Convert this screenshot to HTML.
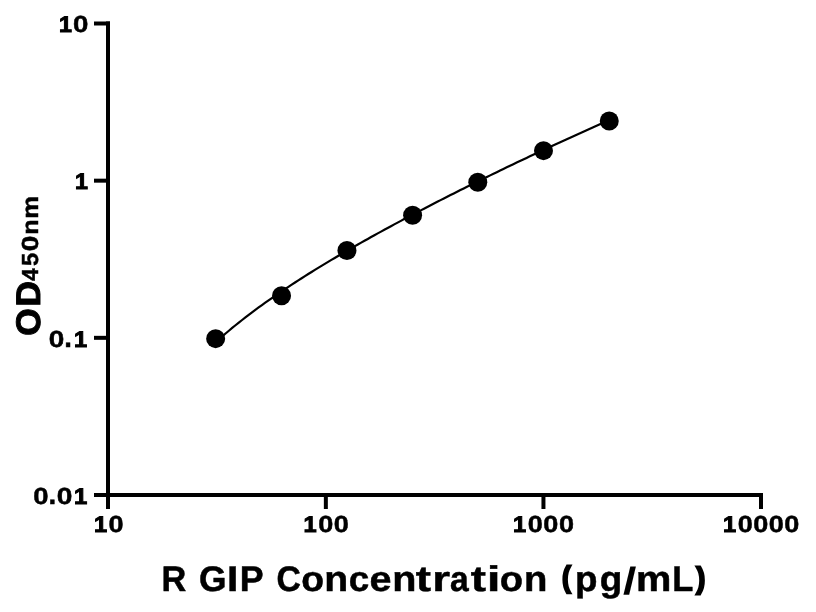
<!DOCTYPE html>
<html><head><meta charset="utf-8"><title>R GIP ELISA standard curve</title>
<style>
html,body{margin:0;padding:0;background:#fff;width:816px;height:612px;overflow:hidden}
svg{display:block;will-change:transform}
text{font-family:"Liberation Sans",sans-serif;font-weight:bold;font-size:100px;fill:#000;text-rendering:geometricPrecision;stroke:#000;stroke-linejoin:miter;stroke-miterlimit:3}
</style></head>
<body>
<svg width="816" height="612" viewBox="0 0 816 612">
<rect width="816" height="612" fill="#fff"/>
<g stroke="#000" stroke-width="4" fill="none" stroke-linecap="butt">
<line x1="108" y1="21.5" x2="108" y2="509"/>
<line x1="94" y1="495" x2="763" y2="495"/>
<line x1="94" y1="23.5" x2="110" y2="23.5"/>
<line x1="94" y1="180.67" x2="110" y2="180.67"/>
<line x1="94" y1="337.83" x2="110" y2="337.83"/>
<line x1="325.85" y1="493" x2="325.85" y2="509"/>
<line x1="543.45" y1="493" x2="543.45" y2="509"/>
<line x1="761" y1="493" x2="761" y2="509"/>
</g>
<path d="M215.65,342.24 L218.96,339.27 L222.27,336.37 L225.57,333.51 L228.88,330.72 L232.19,327.97 L235.50,325.27 L238.80,322.61 L242.11,320.00 L245.42,317.42 L248.73,314.88 L252.03,312.38 L255.34,309.92 L258.65,307.48 L261.96,305.08 L265.26,302.71 L268.57,300.36 L271.88,298.05 L275.19,295.75 L278.49,293.49 L281.80,291.24 L285.11,289.02 L288.42,286.83 L291.72,284.65 L295.03,282.49 L298.34,280.35 L301.65,278.24 L304.95,276.13 L308.26,274.05 L311.57,271.98 L314.88,269.93 L318.18,267.90 L321.49,265.88 L324.80,263.87 L328.11,261.88 L331.41,259.90 L334.72,257.93 L338.03,255.98 L341.34,254.04 L344.64,252.11 L347.95,250.20 L351.26,248.29 L354.57,246.40 L357.88,244.51 L361.18,242.64 L364.49,240.77 L367.80,238.92 L371.11,237.07 L374.41,235.24 L377.72,233.41 L381.03,231.59 L384.34,229.78 L387.64,227.98 L390.95,226.19 L394.26,224.40 L397.57,222.62 L400.87,220.85 L404.18,219.09 L407.49,217.33 L410.80,215.58 L414.10,213.84 L417.41,212.10 L420.72,210.37 L424.03,208.65 L427.33,206.93 L430.64,205.22 L433.95,203.52 L437.26,201.82 L440.56,200.12 L443.87,198.44 L447.18,196.76 L450.49,195.08 L453.79,193.41 L457.10,191.74 L460.41,190.08 L463.72,188.43 L467.02,186.78 L470.33,185.13 L473.64,183.50 L476.95,181.86 L480.26,180.23 L483.56,178.61 L486.87,176.99 L490.18,175.37 L493.49,173.76 L496.79,172.15 L500.10,170.55 L503.41,168.95 L506.72,167.36 L510.02,165.77 L513.33,164.19 L516.64,162.61 L519.95,161.04 L523.25,159.47 L526.56,157.90 L529.87,156.34 L533.18,154.78 L536.48,153.23 L539.79,151.68 L543.10,150.14 L546.41,148.60 L549.71,147.06 L553.02,145.53 L556.33,144.01 L559.64,142.48 L562.94,140.97 L566.25,139.45 L569.56,137.94 L572.87,136.44 L576.17,134.94 L579.48,133.44 L582.79,131.95 L586.10,130.47 L589.40,128.98 L592.71,127.50 L596.02,126.03 L599.33,124.56 L602.63,123.10 L605.94,121.64 L609.25,120.18" stroke="#000" stroke-width="2.2" fill="none"/>
<g fill="#000">
<circle cx="215.65" cy="338.65" r="9.5"/>
<circle cx="281.55" cy="295.8" r="9.5"/>
<circle cx="346.95" cy="250.45" r="9.5"/>
<circle cx="412.6" cy="215.25" r="9.5"/>
<circle cx="477.8" cy="182.25" r="9.5"/>
<circle cx="543.5" cy="150.65" r="9.5"/>
<circle cx="609.25" cy="120.95" r="9.5"/>
</g>
<g><text style="stroke-width:4.379px" transform="matrix(0.2320 0 0 0.2249 58.94 32.00)">1</text><text style="stroke-width:1.971px" transform="matrix(0.2768 0 0 0.2325 73.08 32.00)">0</text></g>
<g><text style="stroke-width:4.379px" transform="matrix(0.2320 0 0 0.2249 75.04 189.00)">1</text></g>
<g><text style="stroke-width:1.964px" transform="matrix(0.2789 0 0 0.2325 48.77 347.00)">0</text><text style="stroke-width:1.792px" transform="matrix(0.2768 0 0 0.2813 64.17 347.00)">.</text><text style="stroke-width:4.339px" transform="matrix(0.2361 0 0 0.2250 74.02 347.00)">1</text></g>
<g><text style="stroke-width:1.978px" transform="matrix(0.2747 0 0 0.2325 33.18 504.00)">0</text><text style="stroke-width:1.792px" transform="matrix(0.2768 0 0 0.2813 48.57 504.00)">.</text><text style="stroke-width:1.956px" transform="matrix(0.2809 0 0 0.2325 56.76 504.00)">0</text><text style="stroke-width:4.320px" transform="matrix(0.2381 0 0 0.2250 73.91 504.00)">1</text></g>
<g><text style="stroke-width:4.339px" transform="matrix(0.2361 0 0 0.2250 93.92 532.00)">1</text><text style="stroke-width:1.994px" transform="matrix(0.2706 0 0 0.2324 108.60 532.00)">0</text></g>
<g><text style="stroke-width:4.339px" transform="matrix(0.2361 0 0 0.2250 303.62 532.00)">1</text><text style="stroke-width:1.994px" transform="matrix(0.2706 0 0 0.2324 318.30 532.00)">0</text><text style="stroke-width:1.994px" transform="matrix(0.2706 0 0 0.2324 333.85 532.00)">0</text></g>
<g><text style="stroke-width:4.339px" transform="matrix(0.2361 0 0 0.2250 513.12 532.00)">1</text><text style="stroke-width:1.994px" transform="matrix(0.2706 0 0 0.2324 527.80 532.00)">0</text><text style="stroke-width:1.994px" transform="matrix(0.2706 0 0 0.2324 543.35 532.00)">0</text><text style="stroke-width:1.994px" transform="matrix(0.2706 0 0 0.2324 558.90 532.00)">0</text></g>
<g><text style="stroke-width:4.339px" transform="matrix(0.2361 0 0 0.2250 723.02 532.00)">1</text><text style="stroke-width:1.994px" transform="matrix(0.2706 0 0 0.2324 737.70 532.00)">0</text><text style="stroke-width:1.994px" transform="matrix(0.2706 0 0 0.2324 753.25 532.00)">0</text><text style="stroke-width:1.994px" transform="matrix(0.2706 0 0 0.2324 768.80 532.00)">0</text><text style="stroke-width:1.994px" transform="matrix(0.2706 0 0 0.2324 784.35 532.00)">0</text></g>
<g><text style="stroke-width:1.434px" transform="matrix(0.3424 0 0 0.3549 161.56 591.00)">R</text><text style="stroke-width:1.412px" transform="matrix(0.3531 0 0 0.3551 198.88 591.00)">G</text><text style="stroke-width:1.314px" transform="matrix(0.4072 0 0 0.3555 227.04 591.00)">I</text><text style="stroke-width:1.404px" transform="matrix(0.3571 0 0 0.3551 239.76 591.00)">P</text><text style="stroke-width:1.447px" transform="matrix(0.3366 0 0 0.3549 276.44 591.00)">C</text><text style="stroke-width:1.372px" transform="matrix(0.3737 0 0 0.3553 301.29 591.00)">o</text><text style="stroke-width:1.341px" transform="matrix(0.3913 0 0 0.3554 324.27 591.00)">n</text><text style="stroke-width:1.383px" transform="matrix(0.3679 0 0 0.3552 348.71 591.00)">c</text><text style="stroke-width:1.334px" transform="matrix(0.3954 0 0 0.3554 369.41 591.00)">e</text><text style="stroke-width:1.334px" transform="matrix(0.3954 0 0 0.3554 392.24 591.00)">n</text><text style="stroke-width:1.238px" transform="matrix(0.4583 0 0 0.3559 415.82 591.00)">t</text><text style="stroke-width:1.237px" transform="matrix(0.4592 0 0 0.3559 432.14 591.00)">r</text><text style="stroke-width:1.448px" transform="matrix(0.3362 0 0 0.3549 450.05 591.00)">a</text><text style="stroke-width:1.238px" transform="matrix(0.4583 0 0 0.3559 470.82 591.00)">t</text><text style="stroke-width:1.188px" transform="matrix(0.4975 0 0 0.3562 486.81 591.00)">i</text><text style="stroke-width:1.359px" transform="matrix(0.3811 0 0 0.3553 499.86 591.00)">o</text><text style="stroke-width:1.355px" transform="matrix(0.3831 0 0 0.3553 523.92 591.00)">n</text><text style="stroke-width:8.964px" transform="matrix(0.2460 0 0 0.2914 562.27 587.00)">(</text><text style="stroke-width:1.383px" transform="matrix(0.3677 0 0 0.3552 574.90 591.00)">p</text><text style="stroke-width:1.382px" transform="matrix(0.3684 0 0 0.3552 599.72 591.00)">g</text><text style="stroke-width:0.000px" transform="matrix(0.4819 0 0 0.3786 623.03 594.00)">/</text><text style="stroke-width:1.329px" transform="matrix(0.3979 0 0 0.3555 635.93 591.00)">m</text><text style="stroke-width:1.429px" transform="matrix(0.3451 0 0 0.3550 672.24 591.00)">L</text><text style="stroke-width:8.738px" transform="matrix(0.2566 0 0 0.2940 696.61 588.00)">)</text></g>
<g><text style="stroke-width:2.884px" transform="matrix(0 -0.3528 0.3408 0 40.00 335.86)">O</text><text style="stroke-width:2.887px" transform="matrix(0 -0.3521 0.3408 0 40.00 306.55)">D</text><text style="stroke-width:2.193px" transform="matrix(0 -0.2242 0.2318 0 38.00 280.70)">4</text><text style="stroke-width:2.136px" transform="matrix(0 -0.2363 0.2320 0 38.00 266.12)">5</text><text style="stroke-width:1.956px" transform="matrix(0 -0.2809 0.2325 0 38.00 251.34)">0</text><text style="stroke-width:2.083px" transform="matrix(0 -0.2524 0.2283 0 38.00 234.71)">n</text><text style="stroke-width:2.068px" transform="matrix(0 -0.2560 0.2283 0 38.00 218.73)">m</text></g>
</svg>
</body></html>
